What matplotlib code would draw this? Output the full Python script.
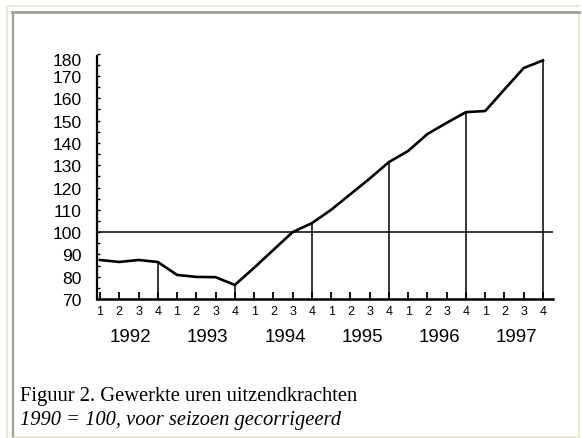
import matplotlib
matplotlib.use("Agg")
import matplotlib.pyplot as plt
import matplotlib.lines as mlines
import matplotlib.transforms as mtransforms
from matplotlib.ticker import MultipleLocator

years = [1992, 1993, 1994, 1995, 1996, 1997]
quarters = ["1", "2", "3", "4"]
index_values = [
    87.5, 86.6, 87.5, 86.6,      # 1992
    80.8, 79.9, 79.8, 76.3,      # 1993
    84.0, 92.0, 100.0, 104.0,    # 1994
    110.0, 117.0, 124.0, 131.4,  # 1995
    136.4, 144.0, 149.0, 153.8,  # 1996
    154.3, 164.0, 173.6, 177.0,  # 1997
]
base_value = 100
y_ticks = list(range(70, 181, 10))
caption = "Figuur 2. Gewerkte uren uitzendkrachten"
subcaption = "1990 = 100, voor seizoen gecorrigeerd"

W, H = 582, 439
fig = plt.figure(figsize=(W / 100, H / 100), dpi=100)
fig.patch.set_facecolor("white")


def fx(px):
    return px / W


def fy(py):
    return 1 - py / H


# page frame
beige = "#ece8d6"
grey = "#a3a094"
frame = [
    ((7, 7), (7, 438), beige, 1.5),
    ((7, 579), (7, 7), beige, 1.5),
    ((578.5, 578.5), (13, 438), beige, 1.5),
    ((12, 579), (437.5, 437.5), beige, 1.5),
    ((12.5, 12.5), (13, 437), grey, 1.6),
    ((12, 579), (13, 13), grey, 2.0),
]
for xs, ys, col, lw in frame:
    fig.add_artist(mlines.Line2D([fx(v) for v in xs], [fy(v) for v in ys],
                                 color=col, lw=lw, transform=fig.transFigure))

ax = fig.add_axes([fx(97), fy(300), fx(553) - fx(97), fy(52.5) - fy(300)])
x = list(range(len(index_values)))
ax.set_xlim(-0.156, 23.52)
ax.set_ylim(70, 181)

ax.plot(x, index_values, color="black", lw=1.9, solid_joinstyle="round", zorder=3)
ax.axhline(base_value, color="black", lw=1.1, zorder=2)

q4 = [i for i in x if i % 4 == 3]
ax.vlines(q4, 70, [index_values[i] for i in q4], color="black", lw=1.1, zorder=2)

for side in ["top", "right"]:
    ax.spines[side].set_visible(False)
ax.spines["left"].set_linewidth(1.6)
ax.spines["bottom"].set_linewidth(1.8)
ax.spines["left"].set_bounds(70, 179)

ax.set_yticks(y_ticks)
ax.yaxis.set_minor_locator(MultipleLocator(5))
ax.tick_params(axis="y", which="both", direction="in", length=2.5, width=1.0,
               pad=11, labelsize=12.6)
for lab in ax.get_yticklabels():
    lab.set_fontfamily("Liberation Sans")
# the top label sits a little lower, as in the original
top_lab = ax.get_yticklabels()[-1]
top_lab.set_transform(top_lab.get_transform() +
                      mtransforms.ScaledTranslation(0, -3.5 / 72, fig.dpi_scale_trans))

ax.set_xticks(x)
ax.set_xticklabels(quarters * len(years), fontfamily="Liberation Sans")
ax.tick_params(axis="x", direction="in", length=5, width=1.3, pad=4, labelsize=9)

for k, yr in enumerate(years):
    ax.text(4 * k + 1.6, -0.15, str(yr), transform=ax.get_xaxis_transform(),
            ha="center", va="center", fontsize=13.5, fontfamily="Liberation Sans")

fig.text(fx(20), fy(397), caption, ha="left", va="center", fontsize=14.8,
         fontfamily="Liberation Serif")
fig.text(fx(20), fy(421), subcaption, ha="left", va="center", fontsize=14.8,
         fontfamily="Liberation Serif", style="italic")

fig.savefig("out.png", dpi=100)
